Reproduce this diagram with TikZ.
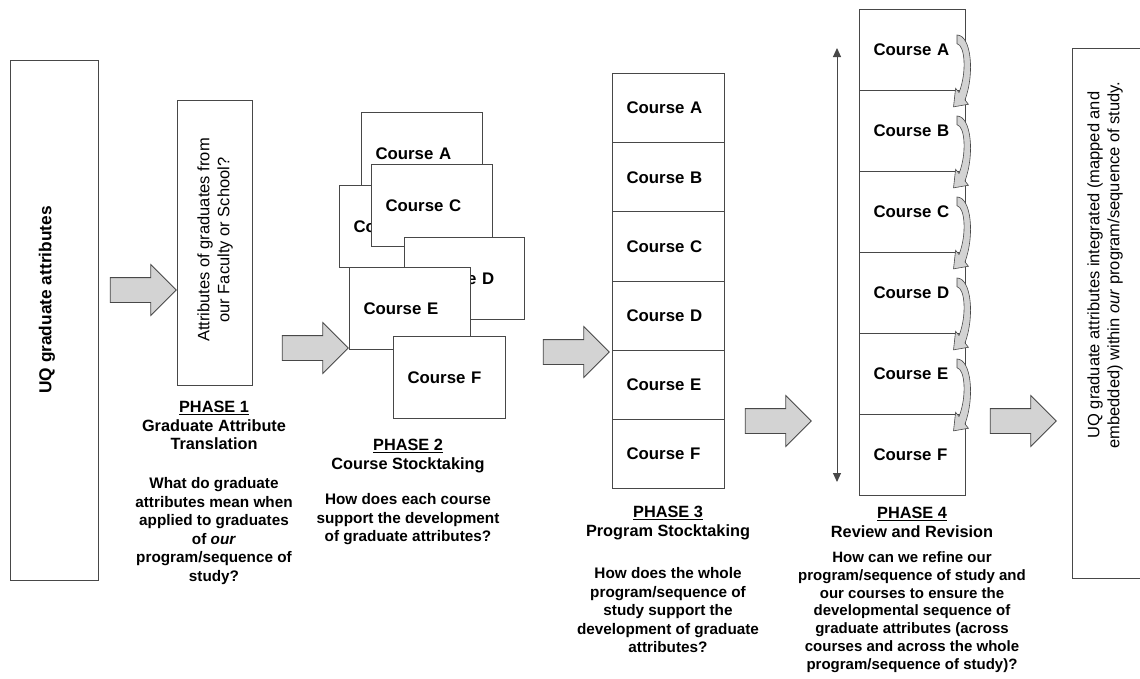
\documentclass[tikz,border=0pt]{standalone}
\usepackage{fontspec}
\setmainfont{Liberation Sans}
\usetikzlibrary{shapes.arrows,arrows.meta}
\definecolor{arrfill}{HTML}{D3D3D3}
\definecolor{edge}{HTML}{484848}
\newcommand\fcourse{\fontsize{16.8}{19}\selectfont\bfseries}
\newcommand\fbody{\fontsize{15.3}{18.5}\selectfont\bfseries}
\newcommand\fbodyb{\fontsize{15}{17.8}\selectfont\bfseries}
\newcommand\ftitle{\fontsize{16.3}{18.5}\selectfont\bfseries}
\newcommand\fplain{\fontsize{16.5}{20}\selectfont}
\newcommand\fbig{\fontsize{17.3}{20}\selectfont\bfseries}
\begin{document}
\begin{tikzpicture}[x=1pt,y=-1pt,
  box/.style={draw=edge, line width=1.1pt, fill=white, inner sep=0pt},
  cell/.style={box, align=left, font=\fcourse, inner xsep=14pt, inner ysep=0pt, anchor=north west},
  fatarrow/.style={single arrow, draw=edge, fill=arrfill, line width=0.8pt,
    minimum height=66pt, inner xsep=0pt, inner ysep=12pt, single arrow head extend=13pt,
    single arrow tip angle=90},
  ttl/.style={align=center, font=\ftitle, anchor=north},
  qst/.style={align=center, font=\fbody, anchor=north},
  curv/.pic={\filldraw[fill=arrfill, draw=edge, line width=0.6pt]
     (0,0) .. controls (14,0) and (18,30) .. (8,52) -- (11.4,55.4) -- (-3.5,57.5)
     -- (-1.4,42.6) -- (2,46) .. controls (10,30) and (8,8) .. (0,7) -- cycle;}
]
\useasboundingbox (0,0) rectangle (1140,678);
\clip (0,0) rectangle (1140,678);

% left and right boxes
\node[box, minimum width=88pt, minimum height=520pt, anchor=north west] (uq) at (10,60) {};
\node[rotate=90, font=\fbig] (uqt) at (47,300) {UQ graduate attributes};
\node[box, minimum width=90pt, minimum height=530pt, anchor=north west] (res) at (1072,48) {};
\node[rotate=90, font=\fplain, align=center] (rest) at (1105,265) {UQ graduate attributes integrated (mapped and\\embedded) within \textit{our} program/sequence of study.};

% arrows
\node[fatarrow] (a1) at (137,290) {};
\node[fatarrow] (a2) at (309,348) {};
\node[fatarrow] (a3) at (570,352) {};
\node[fatarrow] (a4) at (772,421) {};
\node[fatarrow] (a5) at (1017,421) {};

% phase 1
\node[box, minimum width=75pt, minimum height=285pt, anchor=north west] (p1) at (177,100) {};
\node[rotate=90, font=\fplain, align=center] (p1t) at (215,240) {Attributes of graduates from\\our Faculty or School?};
\node[ttl] (t1) at (214,398) {\underline{PHASE 1}\\Graduate Attribute\\Translation};
\node[qst] (q1) at (214,474) {What do graduate\\attributes mean when\\applied to graduates\\of \textit{our}\\program/sequence of\\study?};

% phase 2 cards
\node[cell, text width=93pt, minimum height=82pt] (cA) at (361,112) {Course A};
\node[cell, text width=93pt, minimum height=82pt] (cB) at (339,185) {Course B};
\node[cell, text width=93pt, minimum height=82pt] (cC) at (371,164) {Course C};
\node[cell, text width=92pt, minimum height=82pt] (cD) at (404,237) {Course D};
\node[cell, text width=93pt, minimum height=82pt] (cE) at (349,267) {Course E};
\node[cell, text width=84pt, minimum height=82pt] (cF) at (393,336) {Course F};
\node[ttl] (t2) at (408,436) {\underline{PHASE 2}\\Course Stocktaking};
\node[qst] (q2) at (408,490) {How does each course\\support the development\\of graduate attributes?};

% phase 3 column
\foreach \n [count=\i from 0] in {A,B,C,D,E,F}
  \node[cell, text width=84pt, minimum height=69.17pt] (s\n) at (612,73+69.17*\i) {Course \n};
\node[ttl] (t3) at (668,503) {\underline{PHASE 3}\\Program Stocktaking};
\node[qst] (q3) at (668,564) {How does the whole\\program/sequence of\\study support the\\development of graduate\\attributes?};

% phase 4 column
\foreach \n [count=\i from 0] in {A,B,C,D,E,F}
  \node[cell, text width=78pt, minimum height=81pt] (r\n) at (859,9+81*\i) {Course \n};
\foreach \i in {0,...,4}
  \pic[yscale=1.25] at (957,9+81*\i+26) {curv};
\coordinate (vt) at (837,48);
\coordinate (vb) at (837,482);
\draw[{Triangle[length=9pt,width=8pt]}-{Triangle[length=9pt,width=8pt]}, line width=1pt, draw=edge] (vt) -- (vb);
\node[ttl] (t4) at (912,504) {\underline{PHASE 4}\\Review and Revision};
\node[qst, font=\fbodyb] (q4) at (912,548) {How can we refine our\\program/sequence of study and\\our courses to ensure the\\developmental sequence of\\graduate attributes (across\\courses and across the whole\\program/sequence of study)?};
\end{tikzpicture}
\end{document}
